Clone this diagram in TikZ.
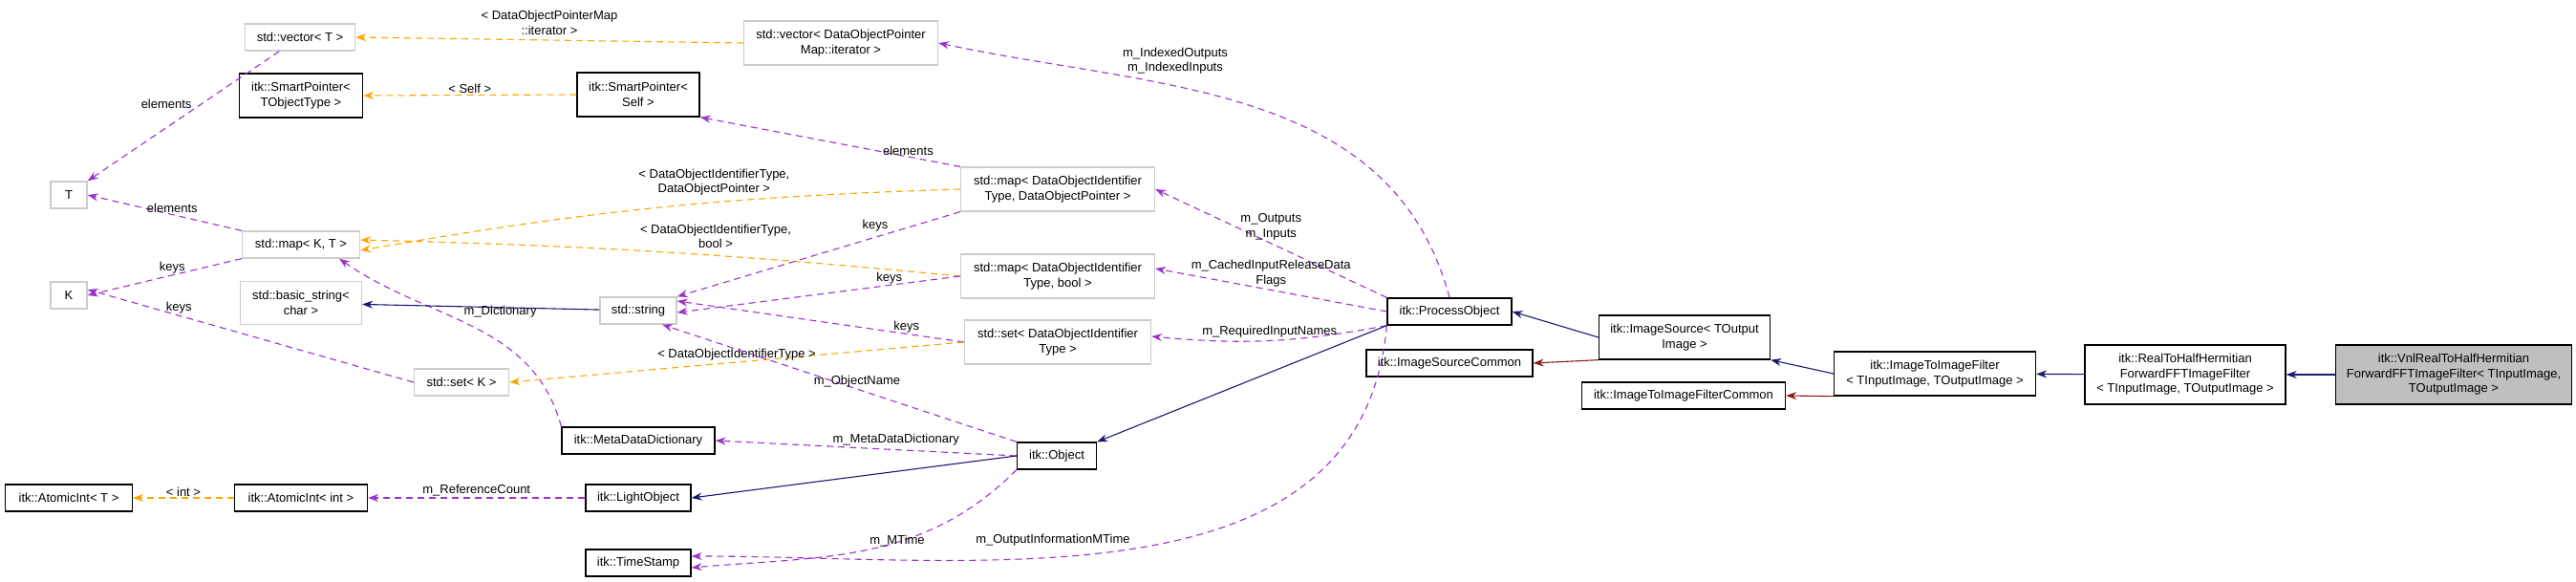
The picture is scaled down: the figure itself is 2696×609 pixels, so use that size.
\documentclass[tikz,border=0pt]{standalone}
\usepackage{fontspec}
\setmainfont{Liberation Sans}
\usetikzlibrary{arrows.meta}
\definecolor{usecol}{HTML}{9A32CD}
\definecolor{tplcol}{HTML}{FFA500}
\definecolor{inhcol}{HTML}{191970}
\definecolor{prvcol}{HTML}{8B1A1A}
\begin{document}
\begin{tikzpicture}[x=1pt,y=-1pt,>={Stealth[length=11pt,width=8pt]},
                    line width=1.1pt,
                    every node/.style={font=\fontsize{13}{15.5}\selectfont}]
  \tikzstyle{cls}=[rectangle,draw=black,fill=white,align=center,inner sep=2pt,minimum height=28pt,line width=1.3pt]
  \tikzstyle{ext}=[cls,draw=black!20]
  \tikzstyle{uses}=[->,usecol,dash pattern=on 7pt off 5pt]
  \tikzstyle{tmpl}=[->,tplcol,dash pattern=on 7pt off 5pt]
  \tikzstyle{inh}=[->,inhcol]
  \tikzstyle{prv}=[->,prvcol]
  \tikzstyle{lbl}=[text=black,align=center,inner sep=1pt]
  \useasboundingbox (0,0) rectangle (2696,609);

  \node[ext, minimum width=115pt] (vecT)    at (314,39)  {std::vector< T >};
  \node[cls, minimum width=129pt, minimum height=46pt] (spObj) at (315,100) {itk::SmartPointer<\\TObjectType >};
  \node[cls, minimum width=128pt, minimum height=46pt] (spSelf) at (668,99) {itk::SmartPointer<\\Self >};
  \node[ext, minimum width=38pt]  (T)       at (72,204)  {T};
  \node[ext, minimum width=123pt] (mapKT)   at (315,256) {std::map< K, T >};
  \node[ext, minimum width=38pt]  (K)       at (72,309)  {K};
  \node[ext, minimum width=127pt, minimum height=45pt] (bstr) at (315,317) {std::basic\_string<\\char >};
  \node[ext, minimum width=80pt]  (str)     at (668,325) {std::string};
  \node[ext, minimum width=99pt]  (setK)    at (483,400) {std::set< K >};
  \node[cls, minimum width=160pt] (mdd)     at (668,461) {itk::MetaDataDictionary};
  \node[cls, minimum width=133pt] (aiT)     at (72,521)  {itk::AtomicInt< T >};
  \node[cls, minimum width=139pt] (aiInt)   at (315,521) {itk::AtomicInt< int >};
  \node[cls, minimum width=110pt] (light)   at (668,521) {itk::LightObject};
  \node[cls, minimum width=110pt] (stamp)   at (668,589) {itk::TimeStamp};

  \node[ext, minimum width=203pt, minimum height=46pt] (vecDOP)  at (880,45)   {std::vector< DataObjectPointer\\Map::iterator >};
  \node[ext, minimum width=203pt, minimum height=46pt] (mapDOP)  at (1107,198) {std::map< DataObjectIdentifier\\Type, DataObjectPointer >};
  \node[ext, minimum width=203pt, minimum height=46pt] (mapBool) at (1107,289) {std::map< DataObjectIdentifier\\Type, bool >};
  \node[ext, minimum width=195pt, minimum height=46pt] (setDOI)  at (1107,358) {std::set< DataObjectIdentifier\\Type >};
  \node[cls, minimum width=83pt]  (obj)     at (1106,477) {itk::Object};
  \node[cls, minimum width=130pt] (proc)    at (1517,326) {itk::ProcessObject};
  \node[cls, minimum width=174pt] (srcCom)  at (1517,380) {itk::ImageSourceCommon};
  \node[cls, minimum width=179pt, minimum height=46pt] (src) at (1763,353) {itk::ImageSource< TOutput\\Image >};
  \node[cls, minimum width=213pt] (filtCom) at (1762,414) {itk::ImageToImageFilterCommon};
  \node[cls, minimum width=211pt, minimum height=46pt] (filt) at (2025,391) {itk::ImageToImageFilter\\< TInputImage, TOutputImage >};
  \node[cls, minimum width=210pt, minimum height=62pt] (half) at (2287,392) {itk::RealToHalfHermitian\\ForwardFFTImageFilter\\< TInputImage, TOutputImage >};
  \node[cls, fill=black!25, minimum width=247pt, minimum height=62pt] (vnl) at (2568,392) {itk::VnlRealToHalfHermitian\\ForwardFFTImageFilter< TInputImage,\\TOutputImage >};

  \path
(vecDOP.west) edge[tmpl] node[lbl,above=4pt,pos=0.5] {< DataObjectPointerMap\\::iterator >} (vecT.east)
(vecT) edge[uses] node[lbl,above left=0pt,pos=0.45] {elements} (T.north east)
(spSelf.west) edge[tmpl] node[lbl,above,pos=0.5] {< Self >} (spObj.east)
(mapKT.north west) edge[uses] node[lbl,above,pos=0.45] {elements} (T.east)
(mapKT.south west) edge[uses] node[lbl,above,pos=0.45] {keys} (K.east)
(setK.west) edge[uses] node[lbl,above,pos=0.72] {keys} ([yshift=6pt]K.east)
(mapDOP.west) edge[tmpl,bend right=4] node[lbl,above=6pt,pos=0.4] {< DataObjectIdentifierType,\\DataObjectPointer >} ([yshift=-6pt]mapKT.east)
(mapBool.west) edge[tmpl,bend right=2] node[lbl,above=6pt,pos=0.4] {< DataObjectIdentifierType,\\bool >} ([yshift=5pt]mapKT.east)
(mdd.north west) edge[uses,out=105,in=-35] node[lbl,pos=0.55,above right=2pt] {m\_Dictionary} ([xshift=40pt]mapKT.south)
(str) edge[inh] (bstr)
(mapDOP.south west) edge[uses] node[lbl,above left,pos=0.25] {keys} (str.north east)
(mapBool.west) edge[uses] node[lbl,above,pos=0.25] {keys} ([yshift=-2pt]str.east)
(setDOI.west) edge[uses] node[lbl,above,pos=0.2] {keys} ([yshift=10pt]str.east)
(setDOI.west) edge[tmpl] node[lbl,above,pos=0.5] {< DataObjectIdentifierType >} (setK.east)
(obj.north west) edge[uses] node[lbl,pos=0.45,above] {m\_ObjectName} ([xshift=25pt]str.south)
(obj.west) edge[uses] node[lbl,pos=0.4,above=3pt] {m\_MetaDataDictionary} (mdd.east)
(obj.west) edge[inh] (light.east)
(obj.south west) edge[uses,out=-135,in=5] node[lbl,pos=0.3,below left=4pt] {m\_MTime} ([yshift=-5pt]stamp.east)
(light.west) edge[uses] node[lbl,above,pos=0.5] {m\_ReferenceCount} (aiInt.east)
(aiInt.west) edge[tmpl] node[lbl,above,pos=0.5] {< int >} (aiT.east)
(mapDOP.north west) edge[uses] node[lbl,above,pos=0.2] {elements} (spSelf.south east)
(proc.north) edge[uses,out=105,in=-12] node[lbl,pos=0.72,above right] {m\_IndexedOutputs\\m\_IndexedInputs} (vecDOP.east)
(proc.north west) edge[uses] node[lbl,above=2pt,pos=0.5] {m\_Outputs\\m\_Inputs} (mapDOP.east)
(proc.west) edge[uses] node[lbl,above=2pt,pos=0.5] {m\_CachedInputReleaseData\\Flags} ([yshift=8pt]mapBool.east)
(proc.south west) edge[uses,bend left=8] node[lbl,above=2pt,pos=0.5] {m\_RequiredInputNames} ([yshift=6pt]setDOI.east)
(proc.south west) edge[inh] (obj.north east)
(proc.south west) edge[uses,out=-95,in=0] node[lbl,pos=0.6,above=10pt] {m\_OutputInformationMTime} ([yshift=7pt]stamp.east)
(src.west) edge[inh] (proc.east)
(src.south west) edge[prv] (srcCom.east)
(filt.west) edge[inh] (src.south east)
(filt.south west) edge[prv] (filtCom.east)
(half) edge[inh] (filt)
(vnl) edge[inh] (half);
\end{tikzpicture}
\end{document}
